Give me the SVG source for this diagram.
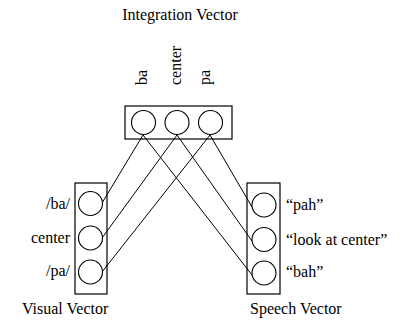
<svg xmlns="http://www.w3.org/2000/svg" width="407" height="327" viewBox="0 0 407 327">
<style>
text{font-family:"Liberation Serif","Times New Roman",serif;font-size:16px;fill:#000}
.box{fill:none;stroke:#000;stroke-width:1.2}
.unit{fill:#fff;stroke:#000;stroke-width:1.1}
.conn line{stroke:#000;stroke-width:1}
</style>
<rect width="407" height="327" fill="#fff"/>
<g id="connectors" class="conn">
<line x1="143" y1="135" x2="102" y2="203"/>
<line x1="143" y1="135" x2="252" y2="275"/>
<line x1="177" y1="135" x2="102" y2="238"/>
<line x1="177" y1="135" x2="252" y2="241"/>
<line x1="210" y1="135" x2="102" y2="272"/>
<line x1="210" y1="135" x2="252" y2="207"/>
</g>
<g id="integration">
<text x="180" y="20" text-anchor="middle">Integration Vector</text>
<rect class="box" x="125" y="106" width="107" height="33"/>
<circle class="unit" cx="143.5" cy="122.5" r="12"/>
<circle class="unit" cx="177" cy="122.5" r="12"/>
<circle class="unit" cx="210.5" cy="122.5" r="12"/>
<text transform="translate(147,85) rotate(-90)">ba</text>
<text transform="translate(181,85) rotate(-90)">center</text>
<text transform="translate(210,85) rotate(-90)">pa</text>
</g>
<g id="visual">
<rect class="box" x="75" y="183" width="32" height="111"/>
<circle class="unit" cx="90.5" cy="203.5" r="12"/>
<circle class="unit" cx="90.5" cy="238" r="12"/>
<circle class="unit" cx="90.5" cy="272" r="12"/>
<text x="70" y="209" text-anchor="end">/ba/</text>
<text x="70" y="243" text-anchor="end">center</text>
<text x="70" y="276" text-anchor="end">/pa/</text>
<text x="22" y="314">Visual Vector</text>
</g>
<g id="speech">
<rect class="box" x="247" y="183" width="33" height="111"/>
<circle class="unit" cx="264" cy="205" r="12"/>
<circle class="unit" cx="264" cy="239.5" r="12"/>
<circle class="unit" cx="264" cy="273" r="12"/>
<text x="286" y="210">“pah”</text>
<text x="286" y="245">“look at center”</text>
<text x="286" y="277">“bah”</text>
<text x="250" y="314">Speech Vector</text>
</g>
</svg>
